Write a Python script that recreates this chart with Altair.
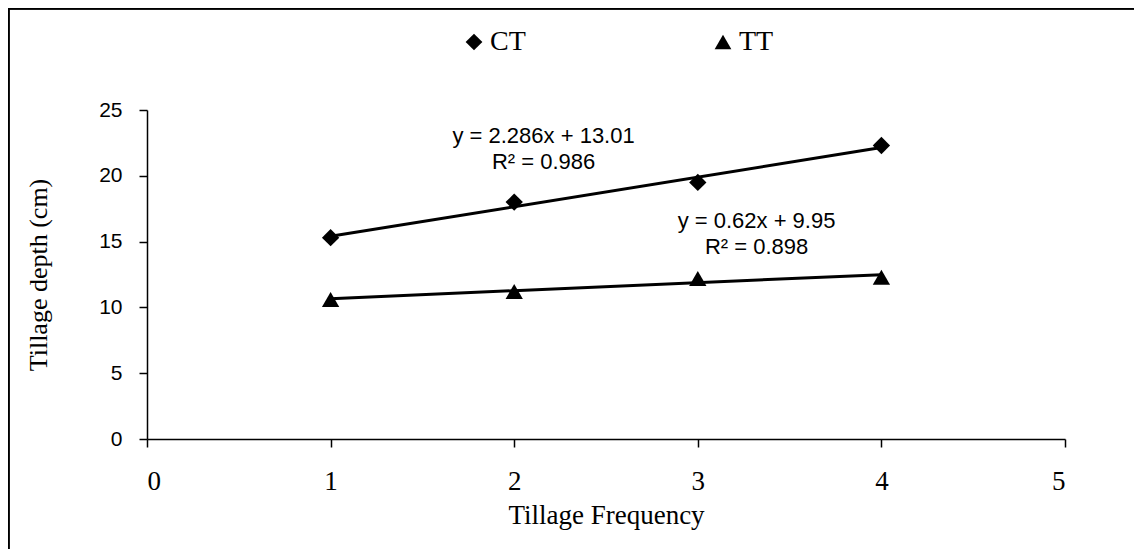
import altair as alt
import pandas as pd

# ---- data ----
freq = [1, 2, 3, 4]
ct_depth = [15.3, 18.0, 19.5, 22.3]
tt_depth = [10.6, 11.2, 12.2, 12.3]
series_names = ["CT", "TT"]

eq_labels = ["y = 2.286x  + 13.01", "R² = 0.986", "y = 0.62x + 9.95", "R² = 0.898"]
eq_x = [2.16, 2.16, 3.32, 3.32]
eq_y = [23.05, 21.05, 16.6, 14.6]

x_ticks = [0, 1, 2, 3, 4, 5]
y_ticks = [0, 5, 10, 15, 20, 25]

df = pd.DataFrame({
    "freq": freq + freq,
    "depth": ct_depth + tt_depth,
    "series": ["CT"] * len(freq) + ["TT"] * len(freq),
})
lab = pd.DataFrame({"x": eq_x, "y": eq_y, "label": eq_labels})

W, H = 918, 329

xscale = alt.Scale(domain=[0, 5], nice=False)
yscale = alt.Scale(domain=[0, 25], nice=False)

xaxis = alt.Axis(
    values=x_ticks, format="d", title="Tillage Frequency", grid=False,
    labelFont="Liberation Serif", labelFontSize=27, labelColor="black",
    labelPadding=21, tickSize=8, tickColor="black", domainColor="black",
    domainWidth=1.5, tickWidth=1.5,
    titleFont="Liberation Serif", titleFontSize=27, titleFontWeight="normal",
    titleColor="black", titlePadding=8,
)
yaxis = alt.Axis(
    values=y_ticks, format="d", title="Tillage depth (cm)", grid=False,
    labelFont="Liberation Sans", labelFontSize=21, labelColor="black",
    labelPadding=17, tickSize=8, tickColor="black", domainColor="black",
    domainWidth=1.5, tickWidth=1.5,
    titleFont="Liberation Serif", titleFontSize=26, titleFontWeight="normal",
    titleColor="black", titlePadding=47,
)

base = alt.Chart(df)

lines = base.transform_regression(
    "freq", "depth", groupby=["series"], extent=[1, 4]
).mark_line(color="black", strokeWidth=3).encode(
    x=alt.X("freq:Q", scale=xscale, axis=xaxis),
    y=alt.Y("depth:Q", scale=yscale, axis=yaxis),
    detail="series:N",
)

points = base.mark_point(filled=True, opacity=1, color="black", size=300).encode(
    x=alt.X("freq:Q", scale=xscale),
    y=alt.Y("depth:Q", scale=yscale),
    shape=alt.Shape(
        "series:N",
        scale=alt.Scale(domain=series_names, range=["diamond", "triangle-up"]),
        legend=alt.Legend(
            title=None, orient="none", legendX=313, legendY=-82,
            direction="horizontal", columnPadding=183,
            labelFont="Liberation Serif", labelFontSize=28, labelColor="black",
            symbolFillColor="black", symbolStrokeColor="black", symbolSize=280,
            labelOffset=2,
        ),
    ),
)

texts = alt.Chart(lab).mark_text(
    font="Liberation Sans", fontSize=22, color="black", align="center", baseline="middle"
).encode(
    x=alt.X("x:Q", scale=xscale),
    y=alt.Y("y:Q", scale=yscale),
    text="label:N",
)

frame = alt.Chart(df).mark_rect(
    filled=False, stroke="black", strokeWidth=1.5
).encode(
    x=alt.value(-138.5), x2=alt.value(1300), y=alt.value(-101.5), y2=alt.value(700)
)

chart = alt.layer(frame, lines, points, texts).properties(
    width=W, height=H,
    background="white",
    autosize=alt.AutoSizeParams(type="none"),
    padding={"left": 139, "top": 102, "right": 69, "bottom": 110},
).configure_view(stroke="transparent", strokeWidth=0)

chart.save("out.html", embed_options={"renderer": "svg", "actions": False})
